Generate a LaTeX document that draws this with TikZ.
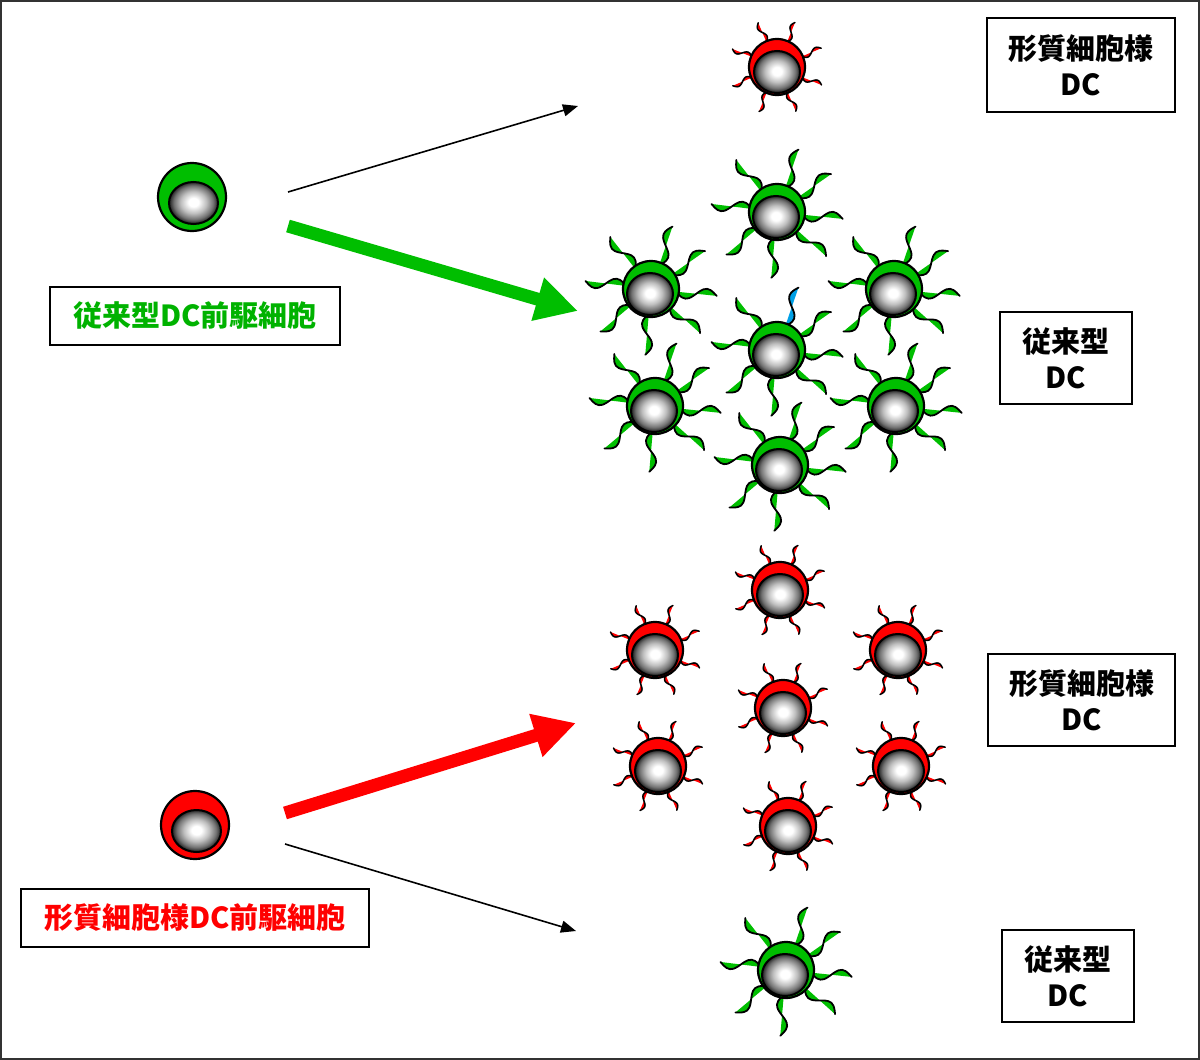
\documentclass[tikz,border=0pt]{standalone}
\usepackage{fontspec}
\setmainfont{Noto Sans CJK JP}
\usetikzlibrary{arrows.meta}
\definecolor{cgreen}{RGB}{0,190,0}
\definecolor{tgreen}{RGB}{0,178,0}
\definecolor{cred}{RGB}{255,0,0}
\definecolor{cblue}{RGB}{0,160,230}

\pgfdeclareradialshading{nucshade}{\pgfpoint{0bp}{1bp}}{%
  color(0bp)=(white); color(5bp)=(white); color(13bp)=(black!25);
  color(20bp)=(black!55); color(25bp)=(black!88); color(50bp)=(black!88)}

% dendrite: angle, start radius, length, amplitude, fill colour, line width
\newcommand{\dendr}[6]{%
  \begin{scope}[rotate=#1]
    \fill[#5] plot[smooth, samples=13, domain=0:1] ({#2+\x*#3},{#4*sin(360*\x)}) -- cycle;
    \draw[line width=#6, line cap=round] plot[smooth, samples=13, domain=0:1] ({#2+\x*#3},{#4*sin(360*\x)});
  \end{scope}}
% nucleus: dx, dy, rx, ry
\newcommand{\nucl}[4]{%
  \shadedraw[shading=nucshade, line width=2pt] (#1,#2) ellipse[x radius=#3, y radius=#4];}
% mature conventional DC (green); optional colour of first dendrite
\newcommand{\gdc}[2][cgreen]{%
  \begin{scope}[shift={(#2)}]
    \dendr{71}{25}{41}{6}{#1}{1.8pt}
    \foreach \a in {35,-6,-42,-95,-140,173,128} {\dendr{\a}{25}{41}{6}{cgreen}{1.8pt}}
    \filldraw[fill=cgreen, line width=2.2pt] (0,0) circle[radius=28];
    \nucl{-1}{5}{23}{21}
  \end{scope}}
% mature plasmacytoid DC (red)
\newcommand{\rdc}[1]{%
  \begin{scope}[shift={(#1)}]
    \foreach \a in {113,68,23,-22,-67,-112,-157,158} {\dendr{\a}{27}{21}{3}{cred}{1.5pt}}
    \filldraw[fill=cred, line width=2.2pt] (0,0) circle[radius=28];
    \nucl{0}{5}{23}{21}
  \end{scope}}
% progenitor
\newcommand{\prog}[2]{%
  \begin{scope}[shift={(#1)}]
    \filldraw[fill=#2, line width=2.2pt] (0,0) circle[radius=34];
    \nucl{1.5}{6}{24.5}{21}
  \end{scope}}

\tikzset{
  lab/.style={draw, line width=2.4pt, fill=white, inner sep=0pt, align=center,
    font=\bfseries\fontsize{29}{36}\selectfont},
  thin/.style={line width=1.6pt, -{Triangle[length=15pt,width=12pt]}},
  thick/.style={line width=13pt, -{Triangle[length=42pt,width=42pt]}}
}

\begin{document}
\begin{tikzpicture}[x=1pt,y=-1pt]
\useasboundingbox (0,0) rectangle (1200,1060);
\draw[line width=2pt, black!80] (1,1) rectangle (1199,1059);

% cell positions
\coordinate (gp) at (192,197);
\coordinate (rp) at (195,825);
\coordinate (pt) at (777,67);
\coordinate (c1) at (777,212);
\coordinate (c2) at (651,289);
\coordinate (c3) at (894,289);
\coordinate (c4) at (777,350);
\coordinate (c5) at (655,406);
\coordinate (c6) at (896,406);
\coordinate (c7) at (780,465);
\coordinate (r1) at (780,590);
\coordinate (r2) at (655,650);
\coordinate (r3) at (898,650);
\coordinate (r4) at (783,708);
\coordinate (r5) at (658,766);
\coordinate (r6) at (901,766);
\coordinate (r7) at (788,826);
\coordinate (cb) at (786,970);

% arrow end points
\coordinate (a1s) at (288,192);
\coordinate (a1e) at (578,106);
\coordinate (a2s) at (288,226);
\coordinate (a2e) at (578,311);
\coordinate (a3s) at (285,813);
\coordinate (a3e) at (576,723);
\coordinate (a4s) at (285,844);
\coordinate (a4e) at (576,931);

% cells
\prog{gp}{cgreen}
\prog{rp}{cred}
\rdc{pt}
\gdc{c1}
\gdc{c2}
\gdc{c3}
\gdc[cblue]{c4}
\gdc{c5}
\gdc{c6}
\gdc{c7}
\rdc{r1}
\rdc{r2}
\rdc{r3}
\rdc{r4}
\rdc{r5}
\rdc{r6}
\rdc{r7}
\gdc{cb}

% arrows
\draw[thin] (a1s) -- (a1e);
\draw[thick, cgreen] (a2s) -- (a2e);
\draw[thick, cred] (a3s) -- (a3e);
\draw[thin] (a4s) -- (a4e);

% labels
\node[lab, text=tgreen, minimum width=290pt, minimum height=58pt] (glab) at (195,316) {従来型DC前駆細胞};
\node[lab, text=cred, minimum width=348pt, minimum height=58pt] (rlab) at (195,918) {形質細胞様DC前駆細胞};
\node[lab, minimum width=188pt, minimum height=94pt] (p1) at (1081,65) {形質細胞様\\DC};
\node[lab, minimum width=132pt, minimum height=92pt] (k1) at (1066,358) {従来型\\DC};
\node[lab, minimum width=187pt, minimum height=92pt] (p2) at (1081.5,700) {形質細胞様\\DC};
\node[lab, minimum width=132pt, minimum height=92pt] (k2) at (1068,976) {従来型\\DC};
\end{tikzpicture}
\end{document}
